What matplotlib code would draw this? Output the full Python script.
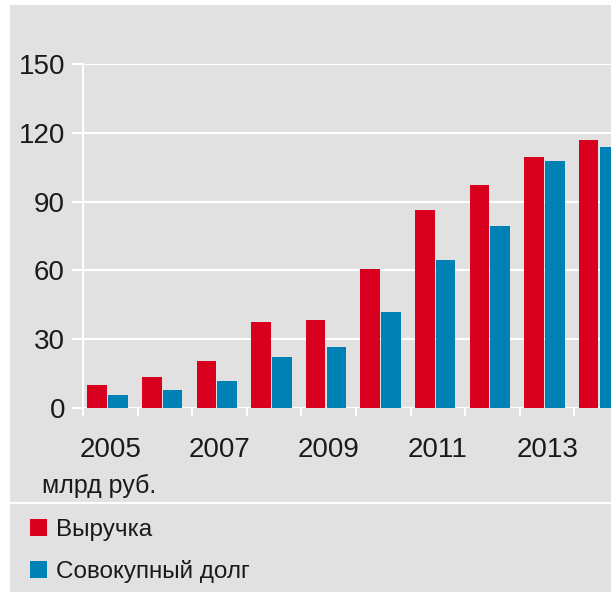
import matplotlib
matplotlib.use("Agg")
import matplotlib.pyplot as plt
from matplotlib.patches import Rectangle
from matplotlib.lines import Line2D
import numpy as np

years = [2005, 2006, 2007, 2008, 2009, 2010, 2011, 2012, 2013, 2014]
revenue = [9.9, 13.7, 20.5, 37.4, 38.4, 60.6, 86.3, 97.2, 109.3, 116.9]
debt = [5.5, 8.0, 11.9, 22.4, 26.5, 41.7, 64.5, 79.5, 107.6, 113.7]
yticks = [0, 30, 60, 90, 120, 150]
labels = ["Выручка", "Совокупный долг"]
unit = "млрд руб."

RED = "#d9001f"
BLUE = "#0081b5"
BG = "#e1e1e1"
TXT = "#1a1a1a"

plt.rcParams["font.family"] = ["Liberation Sans", "DejaVu Sans"]

W, H = 611, 596
fig = plt.figure(figsize=(W / 100, H / 100), dpi=100)
fig.patch.set_facecolor("white")

# grey panel
fig.patches.append(Rectangle((10 / W, 1 - 592 / H), 1 - 10 / W, 587 / H,
                             transform=fig.transFigure, facecolor=BG,
                             edgecolor="none", zorder=-5))
# white separator above legend
fig.lines.append(Line2D([10 / W, 1], [1 - 503 / H, 1 - 503 / H],
                        transform=fig.transFigure, color="white", lw=1.6,
                        zorder=-4))

ax = fig.add_axes([83 / W, 1 - 408 / H, 1 - 83 / W, (408 - 64) / H])
ax.set_facecolor("none")

x = np.arange(len(years))
w = 0.36
b1 = ax.bar(x - 0.24, revenue, width=w, color=RED, zorder=3, label=labels[0])
b2 = ax.bar(x + 0.14, debt, width=w, color=BLUE, zorder=3, label=labels[1])

ax.set_yticks(yticks)
ax.set_yticklabels([str(v) for v in yticks])
ax.yaxis.grid(True, color="white", lw=1.5, zorder=1)
ax.tick_params(axis="y", length=8, width=1.5, color="white", pad=5,
               labelsize=20, labelcolor=TXT)

ax.set_xticks(x[::2])
ax.set_xticklabels([str(y) for y in years[::2]])
ax.set_xticks(np.arange(len(years)) - 0.5, minor=True)
ax.tick_params(axis="x", which="major", length=0, pad=21, labelsize=20,
               labelcolor=TXT)
ax.tick_params(axis="x", which="minor", length=6, width=1.5, color="white")

# limits after ticks so set_xticks does not widen the view
ax.set_xlim(-0.5, -0.5 + (W - 83) / 54.6)
ax.set_ylim(0, 150)

for s in ["top", "right", "bottom"]:
    ax.spines[s].set_visible(False)
ax.spines["left"].set_color("white")
ax.spines["left"].set_linewidth(1.5)

fig.text(42 / W, 1 - 493 / H, unit, fontsize=18, color=TXT, va="baseline")

fig.legend(handles=[b1, b2], labels=labels, loc="upper left",
           bbox_to_anchor=(30 / W, 1 - 519 / H), frameon=False,
           fontsize=17.5, handlelength=0.7, handleheight=0.7,
           handletextpad=0.35, labelspacing=0.8, borderpad=0,
           borderaxespad=0, labelcolor=TXT)

fig.savefig("out.png", dpi=100)
